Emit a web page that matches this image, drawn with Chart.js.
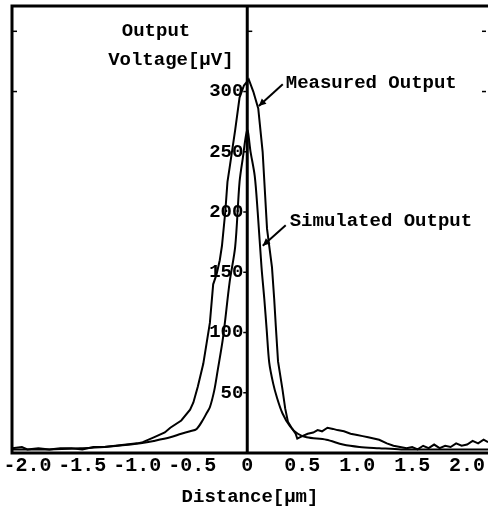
<!DOCTYPE html>
<html><head><meta charset="utf-8">
<script src="https://cdn.jsdelivr.net/npm/chart.js@4.4.0/dist/chart.umd.min.js"></script>
<style>html,body{margin:0;padding:0;background:#fff;overflow:hidden}</style>
</head><body>
<canvas id="c" width="488" height="510"></canvas>
<script>
// ---- data ----
const measuredX = [-2.14,-2.05,-2.0,-1.9,-1.8,-1.7,-1.6,-1.5,-1.4,-1.3,-1.2,-1.1,-1.0,-0.95,-0.85,-0.75,-0.7,-0.6,-0.52,-0.49,-0.45,-0.40,-0.37,-0.34,-0.31,-0.28,-0.25,-0.23,-0.20,-0.18,-0.16,-0.11,-0.07,-0.03,0.014,0.055,0.10,0.14,0.165,0.18,0.225,0.245,0.26,0.28,0.32,0.345,0.37,0.41,0.44,0.455,0.5,0.55,0.6,0.64,0.68,0.73,0.78,0.82,0.88,0.94,1.0,1.05,1.1,1.2,1.27,1.33,1.39,1.45,1.5,1.55,1.6,1.65,1.7,1.75,1.8,1.85,1.9,1.95,2.0,2.05,2.1,2.15,2.19];
const measuredY = [4,5,3,4,3,4,4,3,5,5,6,7,8,9,13,17,21,27,36,42,55,74,91,108,140,148,160,172,200,225,237,268,295,305,310,300,286,250,210,186,154,128,105,76,53,37,26,20,16,12,14,16,17,19,18,21,20,19,18,16,15,14,13,11,8,6,5,4,5,3,6,4,7,4,6,5,8,6,7,10,8,11,9];
const simulatedX = [-2.14,-1.8,-1.5,-1.3,-1.06,-0.97,-0.85,-0.70,-0.6,-0.52,-0.46,-0.40,-0.37,-0.34,-0.30,-0.27,-0.22,-0.16,-0.11,-0.07,-0.04,0.0,0.03,0.068,0.095,0.13,0.155,0.177,0.2,0.235,0.27,0.32,0.39,0.46,0.54,0.72,0.87,1.02,1.2,1.4,1.8,2.19];
const simulatedY = [3,3,4,5,7,8,10,13,16,18,20,28,33,38,52,68,96,142,171,225,245,268,250,230,200,154,128,102,75,58,46,33,22,16,13,11,7,5,4,3,3,3];
const xTicks = [-2.0,-1.5,-1.0,-0.5,0,0.5,1.0,1.5,2.0];
const yTicks = [50,100,150,200,250,300,350];
const yTickLabels = ['50','100','150','200','250','300',''];
const xAxisTitle = 'Distance[μm]';
const yAxisTitle = ['Output','Voltage[μV]'];
const seriesNames = ['Measured Output','Simulated Output'];

// ---- annotation placement (data coordinates) ----
const notes = [
  {text: yAxisTitle[0], x: -0.83, y: 350, align: 'center'},
  {text: yAxisTitle[1], x: -0.695, y: 326, align: 'center'},
  {text: seriesNames[0], x: 0.35, y: 307, align: 'left', from: [0.323, 306], to: [0.105, 288]},
  {text: seriesNames[1], x: 0.386, y: 192, align: 'left', from: [0.35, 189], to: [0.141, 172]}
];

const FONT = '"Liberation Mono"';
Chart.defaults.font.family = FONT;
Chart.defaults.font.weight = 'bold';
Chart.defaults.font.size = 19;
Chart.defaults.color = '#000';

const framePlugin = {
  id: 'frame',
  afterDraw(chart) {
    const {ctx, chartArea: a, scales} = chart;
    const x0 = scales.x.getPixelForValue(0);
    ctx.save();
    ctx.strokeStyle = '#000';
    ctx.lineWidth = 3;
    ctx.beginPath();
    ctx.moveTo(a.right + 2, a.top); ctx.lineTo(a.left, a.top);
    ctx.lineTo(a.left, a.bottom); ctx.lineTo(a.right + 2, a.bottom);
    ctx.stroke();
    // centre value axis at x = 0
    ctx.beginPath(); ctx.moveTo(x0, a.top); ctx.lineTo(x0, a.bottom); ctx.stroke();
    ctx.lineWidth = 1.5;
    yTicks.forEach(v => {
      const py = scales.y.getPixelForValue(v);
      ctx.beginPath();
      if (v === 350) { ctx.moveTo(x0, py); ctx.lineTo(x0 + 5, py); }
      else { ctx.moveTo(x0 - 4, py); ctx.lineTo(x0, py); }
      ctx.stroke();
    });
    [300, 350].forEach(v => {
      const py = scales.y.getPixelForValue(v);
      ctx.beginPath(); ctx.moveTo(a.left, py); ctx.lineTo(a.left + 5, py); ctx.stroke();
      ctx.beginPath(); ctx.moveTo(a.right - 2, py); ctx.lineTo(a.right - 6, py); ctx.stroke();
    });
    // annotations
    ctx.fillStyle = '#000';
    ctx.font = 'bold 19px ' + FONT;
    ctx.textBaseline = 'middle';
    notes.forEach(n => {
      const px = scales.x.getPixelForValue(n.x), py = scales.y.getPixelForValue(n.y);
      ctx.textAlign = n.align;
      ctx.fillText(n.text, px, py);
      if (n.from) {
        const x1 = scales.x.getPixelForValue(n.from[0]), y1 = scales.y.getPixelForValue(n.from[1]);
        const x2 = scales.x.getPixelForValue(n.to[0]), y2 = scales.y.getPixelForValue(n.to[1]);
        ctx.lineWidth = 2;
        ctx.beginPath(); ctx.moveTo(x1, y1); ctx.lineTo(x2, y2); ctx.stroke();
        const ang = Math.atan2(y2 - y1, x2 - x1), L = 8, W = 0.45;
        ctx.beginPath();
        ctx.moveTo(x2, y2);
        ctx.lineTo(x2 - L * Math.cos(ang - W), y2 - L * Math.sin(ang - W));
        ctx.lineTo(x2 - L * Math.cos(ang + W), y2 - L * Math.sin(ang + W));
        ctx.closePath(); ctx.fill();
      }
    });
    ctx.restore();
  }
};

const toPts = (xs, ys) => xs.map((x, i) => ({x, y: ys[i]}));
const noPad = s => { s.paddingTop = 0; s.paddingBottom = 0; s.paddingLeft = 0; s.paddingRight = 0; };

new Chart(document.getElementById('c'), {
  type: 'scatter',
  data: {
    datasets: [
      {label: seriesNames[0], data: toPts(measuredX, measuredY), showLine: true, borderColor: '#000', borderWidth: 2, pointRadius: 0, tension: 0, fill: false},
      {label: seriesNames[1], data: toPts(simulatedX, simulatedY), showLine: true, borderColor: '#000', borderWidth: 2, pointRadius: 0, tension: 0.3, fill: false}
    ]
  },
  options: {
    responsive: false,
    devicePixelRatio: 1,
    animation: false,
    layout: {padding: {left: 12, top: 6, right: 0, bottom: 0}},
    plugins: {legend: {display: false}, tooltip: {enabled: false}},
    scales: {
      x: {
        type: 'linear', position: 'bottom', min: -2.14, max: 2.19,
        afterBuildTicks: s => { s.ticks = xTicks.map(v => ({value: v})); },
        afterFit: s => { s.height = 57; noPad(s); },
        grid: {display: false},
        border: {display: false},
        ticks: {padding: -7, maxRotation: 0, autoSkip: false, font: {size: 20},
          callback: v => v === 0 ? '0' : v.toFixed(1)},
        title: {display: true, text: xAxisTitle, font: {size: 19}, padding: {top: 0, bottom: 1}}
      },
      y: {
        type: 'linear', position: {x: -0.035}, min: 0, max: 371,
        afterBuildTicks: s => { s.ticks = yTicks.map(v => ({value: v})); },
        afterFit: noPad,
        grid: {display: false},
        border: {display: false},
        ticks: {padding: 0, font: {size: 19},
          callback: (v) => { const i = yTicks.indexOf(v); return i >= 0 ? yTickLabels[i] : ''; }}
      }
    }
  },
  plugins: [framePlugin]
});
</script>
</body></html>
